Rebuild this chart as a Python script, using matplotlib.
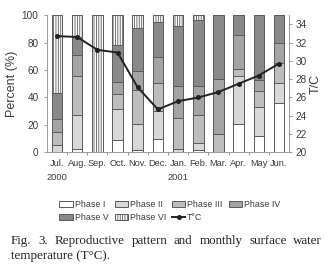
import numpy as np
import matplotlib
matplotlib.use('Agg')
import matplotlib.pyplot as plt

months = ['Jul.\n2000', 'Aug.', 'Sep.', 'Oct.', 'Nov.', 'Dec.', 'Jan.\n2001',
          'Feb.', 'Mar.', 'Apr.', 'May', 'Jun.']

phase_1 = [0, 2.5, 0, 8.8, 2.0, 10.0, 0, 2.0, 0, 20.5, 11.8, 36.2]
phase_2 = [5.5, 25.0, 0, 22.6, 18.7, 20.0, 2.5, 5.0, 0, 35.0, 21.5, 14.5]
phase_3 = [9.4, 28.0, 0, 10.8, 25.0, 20.5, 22.3, 20.5, 13.7, 5.0, 11.7, 14.2]
phase_4 = [9.2, 15.7, 0, 8.9, 13.3, 19.0, 23.6, 21.0, 40.0, 24.8, 8.0, 14.7]
phase_5 = [19.4, 13.0, 0, 26.8, 31.8, 25.5, 43.5, 47.9, 46.3, 14.7, 47.0, 20.4]
phase_6 = [56.5, 15.8, 100, 22.1, 9.2, 5.0, 8.1, 3.6, 0, 0, 0, 0]
temp = [32.7, 32.6, 31.2, 30.9, 27.1, 24.7, 25.6, 26.0, 26.6, 27.5, 28.4, 29.7]

phase_names = ['Phase I', 'Phase II', 'Phase III', 'Phase IV', 'Phase V', 'Phase VI']
phase_colors = ['white', '#d8d8d8', '#bdbdbd', '#a4a4a4', '#898989', 'white']

plt.rcParams['font.family'] = 'Liberation Sans'
plt.rcParams['hatch.linewidth'] = 0.6
txt_col = '#3a3a3a'
edge_col = '#5a5a5a'

fig = plt.figure(figsize=(3.33, 2.68), dpi=100)
ax = fig.add_axes([0.141, 0.431, 0.727, 0.513])
x = np.arange(len(months))

bottom = np.zeros(len(months))
handles = []
for vals, name, col in zip([phase_1, phase_2, phase_3, phase_4, phase_5, phase_6],
                           phase_names, phase_colors):
    h = ax.bar(x, vals, 0.52, bottom=bottom, color=col, edgecolor=edge_col,
               linewidth=0.7, label=name,
               hatch='|||||||' if name == 'Phase VI' else None)
    bottom += np.array(vals)
    handles.append(h)

ax.set_xlim(-0.5, len(months) - 0.5)
ax.set_ylim(0, 100)
ax.set_yticks(range(0, 101, 20))
ax.set_xticks(x)
ax.set_xticklabels(months, fontsize=6.7, color=txt_col, linespacing=1.7)
ax.set_xticks(x[:-1] + 0.5, minor=True)
ax.tick_params(axis='x', which='major', length=0, pad=5)
ax.tick_params(axis='x', which='minor', length=2.5, color='#999999', width=0.7)
ax.tick_params(axis='y', labelsize=7.2, colors=txt_col, length=2.5, width=0.7)
ax.tick_params(axis='y', color='#999999')
ax.set_ylabel('Percent (%)', fontsize=9, color=txt_col, labelpad=3)
for s in ['top', 'right']:
    ax.spines[s].set_visible(False)
for s in ['left', 'bottom']:
    ax.spines[s].set_color('#999999')
    ax.spines[s].set_linewidth(0.7)

ax2 = ax.twinx()
line, = ax2.plot(x, temp, color='#222222', lw=1.4, marker='o', ms=2.6, label='T\u00b0C')
ax2.set_ylim(20, 35)
ax2.set_yticks(range(20, 35, 2))
ax2.tick_params(axis='y', labelsize=7.2, colors=txt_col, length=2.5, width=0.7, pad=2)
ax2.tick_params(axis='y', color='#999999')
ax2.set_ylabel('T/C', fontsize=9, color=txt_col, labelpad=2)
for s in ['top', 'left', 'bottom']:
    ax2.spines[s].set_visible(False)
ax2.spines['right'].set_color('#999999')
ax2.spines['right'].set_linewidth(0.7)

# order so that column-wise filling gives rows I-IV / V, VI, T
order = [handles[0], handles[4], handles[1], handles[5], handles[2], line, handles[3]]
labels = [h.get_label() for h in order]
fig.legend(order, labels, loc='center', bbox_to_anchor=(0.51, 0.213), ncol=4,
           frameon=False, fontsize=6.4, handlelength=1.5, handleheight=0.6,
           handletextpad=0.2, columnspacing=0.7, labelspacing=0.45,
           labelcolor=txt_col)

# caption, first line justified across the width
cap = dict(family='Liberation Serif', fontsize=9.4, color='#222222')
words = 'Fig. 3. Reproductive pattern and monthly surface water'.split()
fig.canvas.draw()
rend = fig.canvas.get_renderer()
x0, x1 = 11 / 333, 322 / 333
ws = []
for w in words:
    t = fig.text(0, 0, w, **cap)
    ws.append(t.get_window_extent(rend).width / fig.bbox.width)
    t.remove()
gap = (x1 - x0 - sum(ws)) / (len(words) - 1)
xp = x0
for w, wd in zip(words, ws):
    fig.text(xp, 0.088, w, **cap)
    xp += wd + gap
fig.text(x0, 0.032, 'temperature (T\u00b0C).', **cap)

fig.savefig('out.png', dpi=100)
